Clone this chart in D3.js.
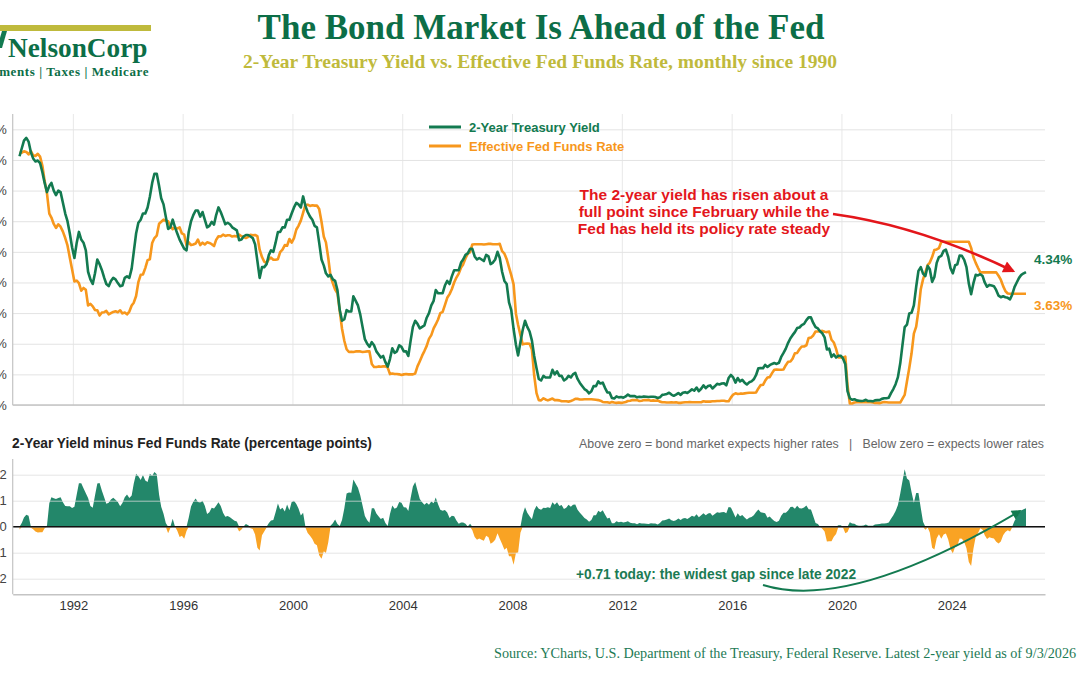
<!DOCTYPE html>
<html>
<head>
<meta charset="utf-8">
<script src="https://cdn.jsdelivr.net/npm/d3@7"></script>
<style>
  html, body { margin: 0; padding: 0; background: #fff; }
  svg { display: block; }
</style>
</head>
<body>
<div id="chart"></div>
<script>
// Chart size
const width = 1080;
const height = 675;

// Monthly data, Jan 1990 .. Sep 2026
const startYear = 1990;

const twoYearYield = [
  8.12, 8.39, 8.63, 8.72, 8.60, 8.25, 8.05, 7.95, 7.98, 7.90, 7.60, 7.25, // 1990
  6.95, 7.15, 7.25, 7.00, 6.85, 7.00, 6.95, 6.60, 6.25, 6.00, 5.60, 5.15, // 1991
  4.80, 5.30, 5.65, 5.40, 5.30, 5.05, 4.35, 4.10, 3.95, 4.30, 4.75, 4.60, // 1992
  4.40, 4.15, 3.95, 3.88, 4.05, 4.15, 4.10, 3.98, 3.88, 3.90, 4.15, 4.20, // 1993
  4.15, 4.45, 5.00, 5.60, 5.95, 6.05, 6.25, 6.25, 6.45, 6.80, 7.25, 7.55, // 1994
  7.55, 7.15, 6.75, 6.55, 6.15, 5.75, 5.80, 6.05, 5.80, 5.60, 5.40, 5.25, // 1995
  5.10, 5.05, 5.65, 6.00, 6.20, 6.35, 6.35, 6.15, 6.30, 6.05, 5.80, 5.85, // 1996
  5.98, 5.89, 6.20, 6.45, 6.30, 6.10, 5.90, 5.95, 5.90, 5.80, 5.75, 5.70, // 1997
  5.38, 5.40, 5.50, 5.55, 5.55, 5.50, 5.45, 5.25, 4.70, 4.15, 4.50, 4.50, // 1998
  4.60, 4.90, 5.05, 5.00, 5.30, 5.65, 5.65, 5.80, 5.80, 6.05, 6.05, 6.25, // 1999
  6.45, 6.60, 6.55, 6.45, 6.81, 6.50, 6.30, 6.15, 6.05, 5.85, 5.80, 5.30, // 2000
  4.75, 4.55, 4.30, 4.20, 4.25, 4.10, 4.05, 3.75, 3.10, 2.75, 2.80, 3.10, // 2001
  3.05, 3.05, 3.55, 3.40, 3.25, 2.95, 2.55, 2.15, 2.00, 1.90, 2.05, 1.95, // 2002
  1.75, 1.65, 1.55, 1.60, 1.40, 1.25, 1.50, 1.85, 1.70, 1.75, 1.95, 1.90, // 2003
  1.75, 1.75, 1.60, 2.10, 2.55, 2.75, 2.65, 2.50, 2.55, 2.60, 2.85, 3.00, // 2004
  3.25, 3.40, 3.75, 3.65, 3.65, 3.65, 3.90, 4.05, 3.95, 4.20, 4.40, 4.40, // 2005
  4.40, 4.65, 4.75, 4.90, 4.95, 5.10, 5.10, 4.85, 4.75, 4.80, 4.75, 4.70, // 2006
  4.90, 4.85, 4.60, 4.65, 4.75, 5.00, 4.80, 4.35, 4.05, 3.95, 3.35, 3.10, // 2007
  2.48, 1.97, 1.62, 2.05, 2.45, 2.75, 2.55, 2.40, 2.10, 1.60, 1.20, 0.85, // 2008
  0.80, 0.95, 0.90, 0.90, 0.90, 1.15, 1.00, 1.10, 0.95, 0.95, 0.80, 0.85, // 2009
  0.95, 0.90, 1.00, 1.05, 0.85, 0.72, 0.62, 0.52, 0.47, 0.38, 0.45, 0.62, // 2010
  0.61, 0.77, 0.70, 0.73, 0.56, 0.41, 0.41, 0.23, 0.21, 0.28, 0.25, 0.26, // 2011
  0.24, 0.28, 0.34, 0.29, 0.29, 0.29, 0.25, 0.27, 0.26, 0.28, 0.27, 0.26, // 2012
  0.27, 0.27, 0.26, 0.23, 0.25, 0.33, 0.34, 0.36, 0.40, 0.34, 0.30, 0.34, // 2013
  0.39, 0.33, 0.40, 0.42, 0.39, 0.45, 0.51, 0.47, 0.57, 0.45, 0.53, 0.64, // 2014
  0.55, 0.62, 0.64, 0.54, 0.61, 0.69, 0.67, 0.70, 0.71, 0.64, 0.88, 0.98, // 2015
  0.90, 0.73, 0.88, 0.77, 0.82, 0.73, 0.67, 0.74, 0.77, 0.84, 0.98, 1.20, // 2016
  1.21, 1.20, 1.31, 1.24, 1.30, 1.34, 1.37, 1.34, 1.38, 1.57, 1.70, 1.84, // 2017
  2.03, 2.18, 2.28, 2.38, 2.51, 2.53, 2.61, 2.65, 2.77, 2.86, 2.86, 2.68, // 2018
  2.54, 2.50, 2.41, 2.34, 2.21, 1.81, 1.84, 1.57, 1.65, 1.55, 1.61, 1.61, // 2019
  1.52, 1.33, 0.45, 0.22, 0.17, 0.19, 0.15, 0.14, 0.13, 0.14, 0.17, 0.13, // 2020
  0.13, 0.12, 0.15, 0.16, 0.16, 0.20, 0.22, 0.22, 0.24, 0.39, 0.52, 0.68, // 2021
  0.91, 1.36, 1.93, 2.54, 2.62, 2.99, 3.01, 3.25, 3.86, 4.38, 4.50, 4.29, // 2022
  4.21, 4.54, 4.43, 4.02, 4.18, 4.64, 4.83, 4.87, 5.03, 5.07, 4.84, 4.47, // 2023
  4.30, 4.56, 4.59, 4.88, 4.87, 4.74, 4.50, 3.97, 3.62, 3.97, 4.25, 4.23, // 2024
  4.27, 4.21, 4.00, 3.86, 3.92, 3.90, 3.88, 3.75, 3.57, 3.52, 3.55, 3.52, // 2025
  3.50, 3.45, 3.60, 3.85, 4.00, 4.15, 4.25, 4.30, 4.34                    // 2026
];

const fedFundsRate = [
  8.23, 8.24, 8.28, 8.26, 8.18, 8.29, 8.15, 8.13, 8.20, 8.11, 7.81, 7.31, // 1990
  6.91, 6.25, 6.12, 5.91, 5.78, 5.90, 5.82, 5.66, 5.45, 5.21, 4.81, 4.43, // 1991
  4.03, 4.06, 3.98, 3.73, 3.82, 3.76, 3.25, 3.30, 3.22, 3.10, 3.09, 2.92, // 1992
  3.02, 3.03, 3.07, 2.96, 3.00, 3.04, 3.06, 3.03, 3.09, 2.99, 3.02, 2.96, // 1993
  3.05, 3.25, 3.34, 3.56, 4.01, 4.25, 4.26, 4.47, 4.73, 4.76, 5.29, 5.45, // 1994
  5.53, 5.92, 5.98, 6.05, 6.01, 6.00, 5.85, 5.74, 5.80, 5.76, 5.80, 5.60, // 1995
  5.56, 5.22, 5.31, 5.22, 5.24, 5.27, 5.40, 5.22, 5.30, 5.24, 5.31, 5.29, // 1996
  5.25, 5.19, 5.39, 5.51, 5.50, 5.56, 5.52, 5.54, 5.54, 5.50, 5.52, 5.50, // 1997
  5.56, 5.51, 5.49, 5.45, 5.49, 5.56, 5.54, 5.55, 5.51, 5.07, 4.83, 4.68, // 1998
  4.63, 4.76, 4.81, 4.74, 4.74, 4.76, 4.99, 5.07, 5.22, 5.20, 5.42, 5.30, // 1999
  5.45, 5.73, 5.85, 6.02, 6.27, 6.53, 6.54, 6.50, 6.52, 6.51, 6.51, 6.40, // 2000
  5.98, 5.49, 5.31, 4.80, 4.21, 3.97, 3.77, 3.65, 3.07, 2.49, 2.09, 1.82, // 2001
  1.73, 1.74, 1.73, 1.75, 1.75, 1.75, 1.73, 1.74, 1.75, 1.75, 1.34, 1.24, // 2002
  1.24, 1.26, 1.25, 1.26, 1.26, 1.22, 1.01, 1.03, 1.01, 1.01, 1.00, 0.98, // 2003
  1.00, 1.01, 1.00, 1.00, 1.00, 1.03, 1.26, 1.43, 1.61, 1.76, 1.93, 2.16, // 2004
  2.28, 2.50, 2.63, 2.79, 3.00, 3.04, 3.26, 3.50, 3.62, 3.78, 4.00, 4.16, // 2005
  4.29, 4.49, 4.59, 4.79, 4.94, 4.99, 5.24, 5.25, 5.25, 5.25, 5.25, 5.24, // 2006
  5.25, 5.26, 5.26, 5.25, 5.25, 5.25, 5.26, 5.02, 4.94, 4.76, 4.49, 4.24, // 2007
  3.94, 2.98, 2.61, 2.28, 1.98, 2.00, 2.01, 2.00, 1.81, 0.97, 0.39, 0.16, // 2008
  0.15, 0.22, 0.18, 0.15, 0.18, 0.21, 0.16, 0.16, 0.15, 0.12, 0.12, 0.12, // 2009
  0.11, 0.13, 0.16, 0.20, 0.20, 0.18, 0.18, 0.19, 0.19, 0.19, 0.19, 0.18, // 2010
  0.17, 0.16, 0.14, 0.10, 0.09, 0.09, 0.07, 0.10, 0.08, 0.07, 0.08, 0.07, // 2011
  0.08, 0.10, 0.13, 0.14, 0.16, 0.16, 0.16, 0.13, 0.14, 0.16, 0.16, 0.16, // 2012
  0.14, 0.15, 0.14, 0.15, 0.11, 0.09, 0.09, 0.08, 0.08, 0.09, 0.08, 0.09, // 2013
  0.07, 0.07, 0.08, 0.09, 0.09, 0.10, 0.09, 0.09, 0.09, 0.09, 0.09, 0.12, // 2014
  0.11, 0.11, 0.11, 0.12, 0.12, 0.13, 0.13, 0.14, 0.14, 0.12, 0.12, 0.24, // 2015
  0.34, 0.38, 0.36, 0.37, 0.37, 0.38, 0.39, 0.40, 0.40, 0.40, 0.41, 0.54, // 2016
  0.65, 0.66, 0.79, 0.90, 0.91, 1.04, 1.15, 1.16, 1.15, 1.15, 1.16, 1.30, // 2017
  1.41, 1.42, 1.51, 1.69, 1.70, 1.82, 1.91, 1.91, 1.95, 2.19, 2.20, 2.27, // 2018
  2.40, 2.40, 2.41, 2.42, 2.39, 2.38, 2.40, 2.13, 2.04, 1.83, 1.55, 1.55, // 2019
  1.55, 1.58, 0.65, 0.05, 0.05, 0.08, 0.09, 0.10, 0.09, 0.09, 0.09, 0.09, // 2020
  0.09, 0.08, 0.07, 0.07, 0.06, 0.08, 0.10, 0.09, 0.08, 0.08, 0.08, 0.08, // 2021
  0.08, 0.08, 0.20, 0.33, 0.77, 1.21, 1.68, 2.33, 2.56, 3.08, 3.78, 4.10, // 2022
  4.33, 4.57, 4.65, 4.83, 5.06, 5.08, 5.12, 5.33, 5.33, 5.33, 5.33, 5.33, // 2023
  5.33, 5.33, 5.33, 5.33, 5.33, 5.33, 5.33, 5.33, 5.13, 4.83, 4.64, 4.48, // 2024
  4.33, 4.33, 4.33, 4.33, 4.33, 4.33, 4.33, 4.33, 4.22, 4.09, 3.88, 3.72, // 2025
  3.64, 3.63, 3.63, 3.63, 3.63, 3.63, 3.63, 3.63, 3.63                    // 2026
];

// Axis ticks
const yearTicks = [1992, 1996, 2000, 2004, 2008, 2012, 2016, 2020, 2024];
const rateTicks = [0, 1, 2, 3, 4, 5, 6, 7, 8, 9];
const spreadTicks = [-2, -1, 0, 1, 2];

// Colours
const green = '#137a50';
const orange = '#f7971c';
const darkGreen = '#0c6e47';
const olive = '#bfba3c';
const serif = '"Liberation Serif", "Times New Roman", serif';
const sans = '"Liberation Sans", Arial, sans-serif';

// Build the rows
const rows = twoYearYield.map((v, i) => ({
  date: new Date(startYear + Math.floor(i / 12), i % 12, 15),
  y2: v,
  ff: fedFundsRate[i],
  spread: v - fedFundsRate[i]
}));
const last = rows[rows.length - 1];

const svg = d3.select('#chart')
  .append('svg')
  .attr('width', width)
  .attr('height', height)
  .style('background', '#fff');

// Scales
const left = 12.7, right = 1045;
const x = d3.scaleTime()
  .domain([new Date(1989, 9, 16), new Date(2027, 4, 26)])
  .range([left, right]);
const yTop = d3.scaleLinear().domain([0, 9.5]).range([405, 114]);
const yBot = d3.scaleLinear().domain([-2.6, 2.6]).range([594.3, 459.1]);

// ---- Header ----
svg.append('rect').attr('x', 0).attr('y', 25).attr('width', 151).attr('height', 6).attr('fill', olive);
svg.append('polygon').attr('points', '2,31 7,31 2,48 -3,48').attr('fill', green);
svg.append('text')
  .attr('x', 8).attr('y', 57)
  .attr('font-family', serif).attr('font-weight', 'bold').attr('font-size', 27.3)
  .attr('fill', darkGreen)
  .text('NelsonCorp');
svg.append('text')
  .attr('x', 149).attr('y', 76).attr('text-anchor', 'end')
  .attr('font-family', serif).attr('font-weight', 'bold').attr('font-size', 13)
  .attr('letter-spacing', 0.6)
  .attr('fill', darkGreen)
  .text('Investments | Taxes | Medicare');

svg.append('text')
  .attr('x', 541).attr('y', 39).attr('text-anchor', 'middle')
  .attr('font-family', serif).attr('font-weight', 'bold').attr('font-size', 35)
  .attr('fill', darkGreen)
  .text('The Bond Market Is Ahead of the Fed');
svg.append('text')
  .attr('x', 540).attr('y', 68).attr('text-anchor', 'middle')
  .attr('font-family', serif).attr('font-weight', 'bold').attr('font-size', 19.5)
  .attr('fill', olive)
  .text('2-Year Treasury Yield vs. Effective Fed Funds Rate, monthly since 1990');

// ---- Top chart ----
const topG = svg.append('g');

// vertical grid
topG.selectAll('.vgrid')
  .data(yearTicks)
  .enter()
  .append('line')
  .attr('x1', d => x(new Date(d, 0, 1)))
  .attr('x2', d => x(new Date(d, 0, 1)))
  .attr('y1', 114).attr('y2', 405)
  .attr('stroke', '#e8e8e8').attr('stroke-width', 1);

// y axis with grid lines
const yAxisTop = topG.append('g')
  .attr('transform', `translate(${left},0)`)
  .call(d3.axisLeft(yTop).tickValues(rateTicks).tickFormat(d => d + '%')
    .tickSize(-(right - left)).tickPadding(6));
yAxisTop.select('.domain').remove();
yAxisTop.selectAll('line').attr('stroke', '#e3e3e3');
yAxisTop.selectAll('text').attr('font-family', sans).attr('font-size', 13).attr('fill', '#444');

// axis frame
topG.append('line').attr('x1', left).attr('x2', left).attr('y1', 114).attr('y2', 405)
  .attr('stroke', '#c4c4c4').attr('stroke-width', 1.2);
topG.append('line').attr('x1', left).attr('x2', right).attr('y1', yTop(0)).attr('y2', yTop(0))
  .attr('stroke', '#c4c4c4').attr('stroke-width', 1.5);

const lineFF = d3.line().x(d => x(d.date)).y(d => yTop(d.ff));
const lineY2 = d3.line().x(d => x(d.date)).y(d => yTop(d.y2));

topG.append('path')
  .datum(rows)
  .attr('d', lineFF)
  .attr('fill', 'none').attr('stroke', orange).attr('stroke-width', 2.6)
  .attr('stroke-linejoin', 'round');
topG.append('path')
  .datum(rows)
  .attr('d', lineY2)
  .attr('fill', 'none').attr('stroke', green).attr('stroke-width', 2.6)
  .attr('stroke-linejoin', 'round');

// legend
const legendItems = [
  { label: '2-Year Treasury Yield', color: green, y: 127 },
  { label: 'Effective Fed Funds Rate', color: orange, y: 146 }
];
const legend = topG.selectAll('.legend')
  .data(legendItems)
  .enter()
  .append('g');
legend.append('line')
  .attr('x1', 429).attr('x2', 461)
  .attr('y1', d => d.y).attr('y2', d => d.y)
  .attr('stroke', d => d.color).attr('stroke-width', 3);
legend.append('text')
  .attr('x', 469).attr('y', d => d.y + 4.5)
  .attr('font-family', sans).attr('font-weight', 'bold').attr('font-size', 13)
  .attr('fill', d => d.color)
  .text(d => d.label);

// end labels
topG.append('text')
  .attr('x', 1034).attr('y', yTop(last.y2) - 8)
  .attr('font-family', sans).attr('font-weight', 'bold').attr('font-size', 13.5)
  .attr('fill', green)
  .text(last.y2.toFixed(2) + '%');
topG.append('text')
  .attr('x', 1034).attr('y', yTop(last.ff) + 16)
  .attr('font-family', sans).attr('font-weight', 'bold').attr('font-size', 13.5)
  .attr('fill', orange)
  .text(last.ff.toFixed(2) + '%');

// arrow markers
const defs = svg.append('defs');
defs.append('marker')
  .attr('id', 'arrowRed')
  .attr('viewBox', '0 0 10 10').attr('refX', 8).attr('refY', 5)
  .attr('markerWidth', 5.2).attr('markerHeight', 4.6)
  .attr('orient', 'auto')
  .append('path').attr('d', 'M0,0 L10,5 L0,10 z').attr('fill', '#e3161b');
defs.append('marker')
  .attr('id', 'arrowGreen')
  .attr('viewBox', '0 0 10 10').attr('refX', 8).attr('refY', 5)
  .attr('markerWidth', 6).attr('markerHeight', 5)
  .attr('orient', 'auto')
  .append('path').attr('d', 'M0,0 L10,5 L0,10 z').attr('fill', green);

// red annotation
const note = ['The 2-year yield has risen about a', 'full point since February while the', 'Fed has held its policy rate steady'];
topG.selectAll('.note')
  .data(note)
  .enter()
  .append('text')
  .attr('x', 704).attr('y', (d, i) => 200 + i * 17)
  .attr('text-anchor', 'middle')
  .attr('font-family', sans).attr('font-weight', 'bold').attr('font-size', 15.5)
  .attr('fill', '#e3161b')
  .text(d => d);
topG.append('path')
  .attr('d', 'M833,214 Q920,226 1013,271')
  .attr('fill', 'none').attr('stroke', '#e3161b').attr('stroke-width', 2.6)
  .attr('marker-end', 'url(#arrowRed)');

// ---- Bottom chart ----
const botG = svg.append('g');

botG.append('text')
  .attr('x', 12).attr('y', 448)
  .attr('font-family', sans).attr('font-weight', 'bold').attr('font-size', 13.75)
  .attr('fill', '#222')
  .text('2-Year Yield minus Fed Funds Rate (percentage points)');
botG.append('text')
  .attr('x', 1044).attr('y', 448).attr('text-anchor', 'end')
  .attr('font-family', sans).attr('font-size', 12.35)
  .attr('fill', '#666')
  .style('white-space', 'pre')
  .text('Above zero = bond market expects higher rates   |   Below zero = expects lower rates');

const areaPos = d3.area()
  .x(d => x(d.date))
  .y0(yBot(0))
  .y1(d => yBot(Math.max(0, d.spread)));
const areaNeg = d3.area()
  .x(d => x(d.date))
  .y0(yBot(0))
  .y1(d => yBot(Math.min(0, d.spread)));

botG.append('path').datum(rows).attr('d', areaPos).attr('fill', '#23876a');
botG.append('path').datum(rows).attr('d', areaNeg).attr('fill', '#f9a324');

const yAxisBot = botG.append('g')
  .attr('transform', `translate(${left},0)`)
  .call(d3.axisLeft(yBot).tickValues(spreadTicks).tickFormat(d3.format('d'))
    .tickSize(-(right - left)).tickPadding(6));
yAxisBot.select('.domain').remove();
yAxisBot.selectAll('line').attr('stroke', '#dedede').attr('stroke-opacity', 0.75);
yAxisBot.selectAll('text').attr('font-family', sans).attr('font-size', 13).attr('fill', '#444');

botG.append('line').attr('x1', left).attr('x2', right).attr('y1', yBot(0)).attr('y2', yBot(0))
  .attr('stroke', '#111').attr('stroke-width', 1.5);
botG.append('line').attr('x1', left).attr('x2', left).attr('y1', 459).attr('y2', 594.3)
  .attr('stroke', '#c4c4c4').attr('stroke-width', 1.2);

const xAxis = botG.append('g')
  .attr('transform', 'translate(0,594.3)')
  .call(d3.axisBottom(x).tickValues(yearTicks.map(y => new Date(y, 0, 1)))
    .tickFormat(d3.timeFormat('%Y')).tickSize(0).tickPadding(6));
xAxis.select('.domain').attr('stroke', '#c4c4c4').attr('stroke-width', 1.5);
xAxis.selectAll('text').attr('font-family', sans).attr('font-size', 13).attr('fill', '#333');

// green annotation
botG.append('text')
  .attr('x', 716).attr('y', 579).attr('text-anchor', 'middle')
  .attr('font-family', sans).attr('font-weight', 'bold').attr('font-size', 13.75)
  .attr('fill', '#1b7a53')
  .text('+' + last.spread.toFixed(2) + ' today: the widest gap since late 2022');
botG.append('path')
  .attr('d', 'M763,585 Q850,612 1020,511')
  .attr('fill', 'none').attr('stroke', green).attr('stroke-width', 2)
  .attr('marker-end', 'url(#arrowGreen)');

// source
svg.append('text')
  .attr('x', 494).attr('y', 658)
  .attr('font-family', serif).attr('font-size', 14.2)
  .attr('fill', '#1d7a55')
  .text('Source: YCharts, U.S. Department of the Treasury, Federal Reserve. Latest 2-year yield as of 9/3/2026');
</script>
</body>
</html>
